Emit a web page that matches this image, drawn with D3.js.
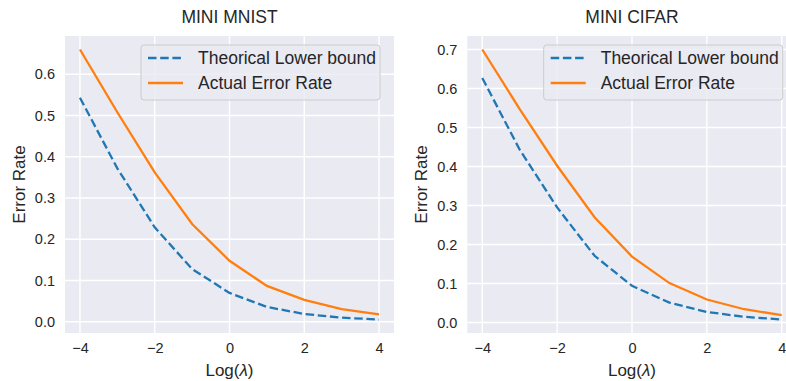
<!DOCTYPE html>
<html>
<head>
<meta charset="utf-8">
<script src="https://cdn.jsdelivr.net/npm/d3@7"></script>
<style>
  body { margin: 0; background: #fff; }
  text { font-family: "Liberation Sans", Arial, sans-serif; fill: #262626; }
</style>
</head>
<body>
<div id="chart"></div>
<script>
// log(lambda) values shared by both panels
const logLambda = [-4, -3, -2, -1, 0, 1, 2, 3, 4];
const xTicks = [-4, -2, 0, 2, 4];

const mnistLower = [0.543, 0.372, 0.229, 0.128, 0.070, 0.036, 0.019, 0.010, 0.0056];
const mnistActual = [0.660, 0.508, 0.362, 0.237, 0.148, 0.087, 0.053, 0.031, 0.018];
const mnistYTicks = [0.0, 0.1, 0.2, 0.3, 0.4, 0.5, 0.6];

const cifarLower = [0.627, 0.443, 0.295, 0.171, 0.094, 0.051, 0.027, 0.0146, 0.0077];
const cifarActual = [0.700, 0.547, 0.402, 0.270, 0.169, 0.101, 0.059, 0.034, 0.019];
const cifarYTicks = [0.0, 0.1, 0.2, 0.3, 0.4, 0.5, 0.6, 0.7];

const seriesNames = ["Theorical Lower bound", "Actual Error Rate"];
const titles = ["MINI MNIST", "MINI CIFAR"];

const width = 786, height = 381;
const blue = "#1f77b4", orange = "#ff7f0e";

const svg = d3.select("#chart").append("svg")
  .attr("width", width)
  .attr("height", height);

const panels = [
  { title: titles[0], lower: mnistLower, actual: mnistActual, yTicks: mnistYTicks, left: 65, right: 394 },
  { title: titles[1], lower: cifarLower, actual: cifarActual, yTicks: cifarYTicks, left: 467.3, right: 796.7 }
];
const plotTop = 36, plotBottom = 333;

// matplotlib-like 5% margins
function padded(lo, hi) {
  const m = (hi - lo) * 0.05;
  return [lo - m, hi + m];
}

panels.forEach(p => {
  const g = svg.append("g");

  const x = d3.scaleLinear()
    .domain(padded(d3.min(logLambda), d3.max(logLambda)))
    .range([p.left, p.right]);

  const all = p.lower.concat(p.actual);
  const y = d3.scaleLinear()
    .domain(padded(d3.min(all), d3.max(all)))
    .range([plotBottom, plotTop]);

  // background
  g.append("rect")
    .attr("x", p.left).attr("y", plotTop)
    .attr("width", p.right - p.left).attr("height", plotBottom - plotTop)
    .attr("fill", "#eaeaf2");

  // grid lines
  g.selectAll(".vgrid").data(xTicks).enter().append("line")
    .attr("x1", d => x(d)).attr("x2", d => x(d))
    .attr("y1", plotTop).attr("y2", plotBottom)
    .attr("stroke", "#fff").attr("stroke-width", 1.4);

  g.selectAll(".hgrid").data(p.yTicks).enter().append("line")
    .attr("x1", p.left).attr("x2", p.right)
    .attr("y1", d => y(d)).attr("y2", d => y(d))
    .attr("stroke", "#fff").attr("stroke-width", 1.4);

  // x axis (labels only, seaborn darkgrid style)
  const xAxis = g.append("g")
    .attr("transform", "translate(0," + plotBottom + ")")
    .call(d3.axisBottom(x).tickValues(xTicks).tickSize(0).tickPadding(10)
      .tickFormat(d => d < 0 ? "\u2212" + Math.abs(d) : d));
  xAxis.select(".domain").remove();
  xAxis.selectAll("text").style("font-size", "14.5px").attr("fill", "#262626");

  // y axis
  const yAxis = g.append("g")
    .attr("transform", "translate(" + p.left + ",0)")
    .call(d3.axisLeft(y).tickValues(p.yTicks).tickSize(0).tickPadding(10)
      .tickFormat(d3.format(".1f")));
  yAxis.select(".domain").remove();
  yAxis.selectAll("text").style("font-size", "14.5px").attr("fill", "#262626");

  // lines
  const line = d3.line()
    .x((d, i) => x(logLambda[i]))
    .y(d => y(d));

  g.append("path").datum(p.actual)
    .attr("d", line)
    .attr("fill", "none")
    .attr("stroke", orange)
    .attr("stroke-width", 2.3);

  g.append("path").datum(p.lower)
    .attr("d", line)
    .attr("fill", "none")
    .attr("stroke", blue)
    .attr("stroke-width", 2.3)
    .attr("stroke-dasharray", "8.5,3.7");

  // title
  g.append("text")
    .attr("x", (p.left + p.right) / 2).attr("y", 23)
    .attr("text-anchor", "middle")
    .style("font-size", "17.5px")
    .text(p.title);

  // axis labels
  const xl = g.append("text")
    .attr("x", (p.left + p.right) / 2).attr("y", 376)
    .attr("text-anchor", "middle")
    .style("font-size", "17px");
  xl.append("tspan").text("Log(");
  xl.append("tspan").style("font-style", "italic").text("\u03bb");
  xl.append("tspan").text(")");

  g.append("text")
    .attr("transform", "translate(" + (p.left - 40) + "," + ((plotTop + plotBottom) / 2) + ") rotate(-90)")
    .attr("text-anchor", "middle")
    .style("font-size", "17px")
    .text("Error Rate");

  // legend
  const lx = p.right - 14 - 239, ly = 45;
  const lg = g.append("g").attr("transform", "translate(" + lx + "," + ly + ")");
  lg.append("rect")
    .attr("width", 239).attr("height", 55)
    .attr("rx", 3)
    .attr("fill", "#eaeaf2").attr("fill-opacity", 0.8)
    .attr("stroke", "#cccccc").attr("stroke-width", 1);

  const styles = [{ c: blue, dash: "8.5,3.7" }, { c: orange, dash: null }];
  seriesNames.forEach((name, i) => {
    const cy = 13 + i * 25;
    lg.append("line")
      .attr("x1", 7).attr("x2", 42).attr("y1", cy).attr("y2", cy)
      .attr("stroke", styles[i].c).attr("stroke-width", 2.3)
      .attr("stroke-dasharray", styles[i].dash);
    lg.append("text")
      .attr("x", 57).attr("y", cy + 6)
      .style("font-size", "17.5px")
      .text(name);
  });
});
</script>
</body>
</html>
